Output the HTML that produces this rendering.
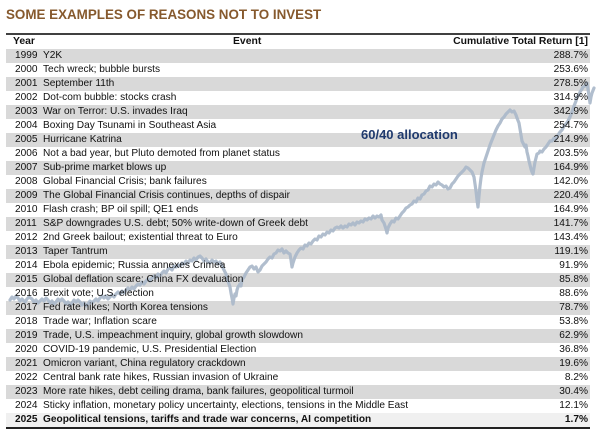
<!DOCTYPE html>
<html>
<head>
<meta charset="utf-8">
<style>
  html,body{margin:0;padding:0;background:#fff;}
  body{width:602px;height:433px;position:relative;overflow:hidden;font-family:"Liberation Sans",Arial,sans-serif;}
  .title{position:absolute;left:6px;top:7px;font-size:13.4px;font-weight:bold;color:#86592d;white-space:nowrap;letter-spacing:0;}
  .bg{position:absolute;left:6px;width:584px;height:14px;}
  .g{background:#d9d9d9;}
  .l{background:#f0f0f0;}
  .row{position:absolute;left:6px;width:584px;height:14px;font-size:10.15px;line-height:14px;color:#111;white-space:nowrap;}
  .row .y{position:absolute;left:9px;}
  .row .e{position:absolute;left:37px;}
  .row .v{position:absolute;right:2px;}
  .hdr{font-weight:bold;font-size:10.4px;}
  .hdr .e{left:227px;}
  .b{font-weight:bold;}
  .line{position:absolute;left:0;top:0;}
  .lab{position:absolute;left:361px;top:127px;font-size:13px;font-weight:bold;color:#1f3a6e;white-space:nowrap;}
  .topb{position:absolute;left:6px;top:33px;width:584px;height:2px;background:#404040;}
  .botb{position:absolute;left:6px;top:427px;width:584px;height:2px;background:#222;}
</style>
</head>
<body>
<div class="title">SOME EXAMPLES OF REASONS NOT TO INVEST</div>
<div class="topb"></div>

<div class="bg g" style="top:49px"></div>
<div class="bg g" style="top:77px"></div>
<div class="bg g" style="top:105px"></div>
<div class="bg g" style="top:133px"></div>
<div class="bg g" style="top:161px"></div>
<div class="bg g" style="top:189px"></div>
<div class="bg g" style="top:217px"></div>
<div class="bg g" style="top:245px"></div>
<div class="bg g" style="top:273px"></div>
<div class="bg g" style="top:301px"></div>
<div class="bg g" style="top:329px"></div>
<div class="bg g" style="top:357px"></div>
<div class="bg g" style="top:385px"></div>
<div class="bg l" style="top:413px"></div>

<svg class="line" width="602" height="433" viewBox="0 0 602 433">
  <polyline fill="none" stroke="#a9b7c9" stroke-width="3.2" stroke-linejoin="round" stroke-linecap="round" opacity="0.9"
   points="10,300 12,297 14,299 16,296 18,298 20,301 22,299 25,302 27,299 29,297 32,299 34,302 36,300 38,303 40,301 42,299 44,301 46,298 48,300 50,303 52,301 54,304 56,302 58,299 60,301 62,299 64,301 66,304 68,302 70,305 72,303 74,300 76,302 78,300 80,302 82,305 84,303 86,306 88,304 90,301 92,303 94,301 96,299 98,301 100,298 102,296 104,298 106,296 108,299 110,297 112,295 114,297 116,294 118,292 120,294 122,291 124,293 126,290 128,288 130,290 132,287 134,289 136,286 138,284 140,285 142,282 144,284 146,281 148,279 150,281 152,278 154,276 156,278 158,274 160,276 162,273 164,271 166,273 168,269 170,268 172,270 174,266 176,267 178,265 180,266 182,263 184,264 186,261 188,263 190,260 192,261 194,258 196,260 198,257 200,256 202,258 204,261 206,259 208,262 210,263 212,260 214,262 216,261 218,264 220,262 222,266 224,270 226,274 228,281 230,287 231,293 232,298 233,304 234,298 235,294 236,296 237,290 238,287 240,284 241,286 242,280 244,277 246,273 248,270 250,267 252,266 254,269 256,267 258,272 260,270 262,266 264,264 266,262 268,259 270,257 272,258 274,254 276,253 278,250 280,251 282,249 284,253 286,251 288,253 290,254 291,260 292,267 293,263 295,257 297,253 299,250 301,248 303,249 305,245 307,246 309,243 311,244 313,241 315,239 317,240 319,236 321,237 323,234 325,235 327,232 329,233 331,230 333,231 335,228 337,227 339,228 341,226 343,228 345,226 347,227 349,224 351,225 353,223 355,225 357,222 359,223 361,221 363,222 365,219 367,220 369,218 371,219 373,216 375,218 377,216 379,217 381,215 382,220 384,223 386,229 387,233 388,228 390,224 392,221 394,222 396,218 398,219 400,216 402,213 404,211 406,208 408,207 410,205 412,204 414,201 416,202 418,198 420,199 422,195 424,194 426,191 428,190 430,186 432,187 434,184 436,185 438,182 440,184 442,185 444,187 446,186 448,189 450,188 452,184 454,182 456,179 458,176 460,174 462,172 464,170 466,167 468,168 470,170 472,172 474,177 475,184 476,191 477,200 478,207 479,196 480,186 481,178 482,172 484,163 486,157 488,151 490,145 492,140 494,135 496,130 498,126 500,123 502,119 504,117 506,114 508,112 510,110 512,112 514,111 516,115 517,118 519,123 520,129 521,135 522,141 523,143 525,147 526,145 527,152 528,156 529,161 530,165 531,169 532,172 533,174 534,168 535,162 536,158 537,154 539,153 540,151 542,152 544,149 546,147 548,144 550,141 552,141 554,138 556,139 558,135 560,132 562,130 564,126 566,124 568,121 570,117 572,112 574,106 576,101 577,97 579,95 580,92 582,89 583,87 585,86 587,83 588,89 589,96 590,103 591,97 592,93 594,88"/>
</svg>

<div class="lab">60/40 allocation</div>

<div class="row hdr" style="top:35px"><span class="y" style="left:7px">Year</span><span class="e">Event</span><span class="v">Cumulative Total Return [1]</span></div>
<div class="row" style="top:49px"><span class="y">1999</span><span class="e">Y2K</span><span class="v">288.7%</span></div>
<div class="row" style="top:63px"><span class="y">2000</span><span class="e">Tech wreck; bubble bursts</span><span class="v">253.6%</span></div>
<div class="row" style="top:77px"><span class="y">2001</span><span class="e">September 11th</span><span class="v">278.5%</span></div>
<div class="row" style="top:91px"><span class="y">2002</span><span class="e">Dot-com bubble: stocks crash</span><span class="v">314.9%</span></div>
<div class="row" style="top:105px"><span class="y">2003</span><span class="e">War on Terror: U.S. invades Iraq</span><span class="v">342.9%</span></div>
<div class="row" style="top:119px"><span class="y">2004</span><span class="e">Boxing Day Tsunami in Southeast Asia</span><span class="v">254.7%</span></div>
<div class="row" style="top:133px"><span class="y">2005</span><span class="e">Hurricane Katrina</span><span class="v">214.9%</span></div>
<div class="row" style="top:147px"><span class="y">2006</span><span class="e">Not a bad year, but Pluto demoted from planet status</span><span class="v">203.5%</span></div>
<div class="row" style="top:161px"><span class="y">2007</span><span class="e">Sub-prime market blows up</span><span class="v">164.9%</span></div>
<div class="row" style="top:175px"><span class="y">2008</span><span class="e">Global Financial Crisis; bank failures</span><span class="v">142.0%</span></div>
<div class="row" style="top:189px"><span class="y">2009</span><span class="e">The Global Financial Crisis continues, depths of dispair</span><span class="v">220.4%</span></div>
<div class="row" style="top:203px"><span class="y">2010</span><span class="e">Flash crash; BP oil spill; QE1 ends</span><span class="v">164.9%</span></div>
<div class="row" style="top:217px"><span class="y">2011</span><span class="e">S&amp;P downgrades U.S. debt; 50% write-down of Greek debt</span><span class="v">141.7%</span></div>
<div class="row" style="top:231px"><span class="y">2012</span><span class="e">2nd Greek bailout; existential threat to Euro</span><span class="v">143.4%</span></div>
<div class="row" style="top:245px"><span class="y">2013</span><span class="e">Taper Tantrum</span><span class="v">119.1%</span></div>
<div class="row" style="top:259px"><span class="y">2014</span><span class="e">Ebola epidemic; Russia annexes Crimea</span><span class="v">91.9%</span></div>
<div class="row" style="top:273px"><span class="y">2015</span><span class="e">Global deflation scare; China FX devaluation</span><span class="v">85.8%</span></div>
<div class="row" style="top:287px"><span class="y">2016</span><span class="e">Brexit vote; U.S. election</span><span class="v">88.6%</span></div>
<div class="row" style="top:301px"><span class="y">2017</span><span class="e">Fed rate hikes; North Korea tensions</span><span class="v">78.7%</span></div>
<div class="row" style="top:315px"><span class="y">2018</span><span class="e">Trade war; Inflation scare</span><span class="v">53.8%</span></div>
<div class="row" style="top:329px"><span class="y">2019</span><span class="e">Trade, U.S. impeachment inquiry, global growth slowdown</span><span class="v">62.9%</span></div>
<div class="row" style="top:343px"><span class="y">2020</span><span class="e">COVID-19 pandemic, U.S. Presidential Election</span><span class="v">36.8%</span></div>
<div class="row" style="top:357px"><span class="y">2021</span><span class="e">Omicron variant, China regulatory crackdown</span><span class="v">19.6%</span></div>
<div class="row" style="top:371px"><span class="y">2022</span><span class="e">Central bank rate hikes, Russian invasion of Ukraine</span><span class="v">8.2%</span></div>
<div class="row" style="top:385px"><span class="y">2023</span><span class="e">More rate hikes, debt ceiling drama, bank failures, geopolitical turmoil</span><span class="v">30.4%</span></div>
<div class="row" style="top:399px"><span class="y">2024</span><span class="e">Sticky inflation, monetary policy uncertainty, elections, tensions in the Middle East</span><span class="v">12.1%</span></div>
<div class="row b" style="top:413px"><span class="y">2025</span><span class="e">Geopolitical tensions, tariffs and trade war concerns, AI competition</span><span class="v">1.7%</span></div>

<div class="botb"></div>
</body>
</html>
